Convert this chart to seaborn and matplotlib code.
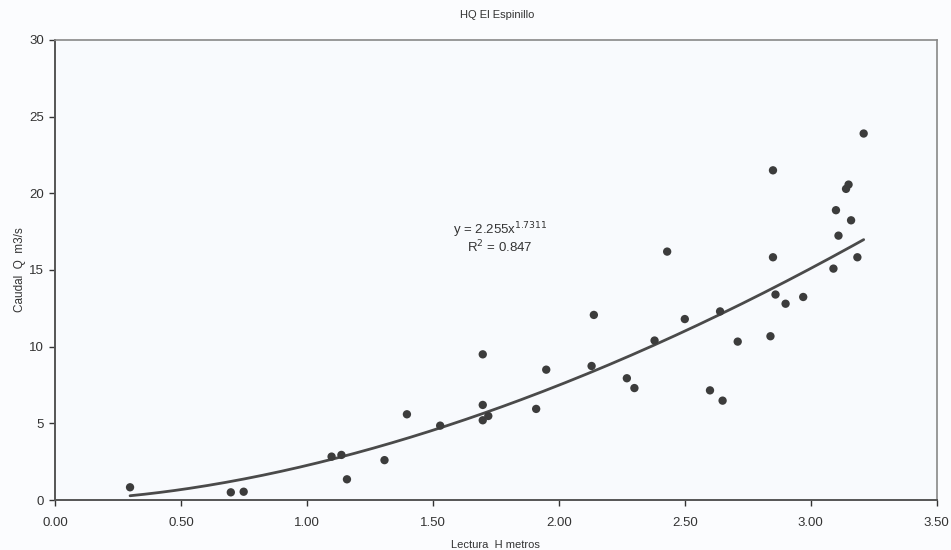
import numpy as np
import pandas as pd
import matplotlib
matplotlib.use("Agg")
import matplotlib.pyplot as plt
import seaborn as sns

# Data
lectura_h = [0.298, 0.698, 0.749, 1.098, 1.137, 1.159, 1.308, 1.397, 1.529,
             1.698, 1.698, 1.698, 1.72, 1.91, 1.95, 2.13, 2.139, 2.27, 2.30,
             2.38, 2.43, 2.50, 2.60, 2.64, 2.65, 2.71, 2.84, 2.85, 2.85, 2.86,
             2.90, 2.97, 3.09, 3.10, 3.11, 3.14, 3.15, 3.16, 3.185, 3.21]
caudal_q = [0.83, 0.50, 0.54, 2.83, 2.94, 1.35, 2.6, 5.59, 4.85,
            9.5, 6.2, 5.2, 5.48, 5.94, 8.5, 8.74, 12.07, 7.94, 7.3,
            10.4, 16.2, 11.8, 7.15, 12.3, 6.48, 10.33, 10.68, 21.5, 15.83, 13.4,
            12.8, 13.24, 15.09, 18.9, 17.24, 20.29, 20.57, 18.24, 15.83, 23.9]

# Power trendline shown on chart
coef_a = 2.255
coef_b = 1.7311

x_ticks = [0.00, 0.50, 1.00, 1.50, 2.00, 2.50, 3.00, 3.50]
y_ticks = [0, 5, 10, 15, 20, 25, 30]

df = pd.DataFrame({"H": lectura_h, "Q": caudal_q})

sns.set_theme(style="white")
plt.rcParams['font.family'] = ['Liberation Sans', 'DejaVu Sans']

fig = plt.figure(figsize=(9.51, 5.5), dpi=100)
fig.patch.set_facecolor("#fbfcfe")
ax = fig.add_axes([0.0578, 0.0909, 0.9272, 0.8364])
ax.set_facecolor("#f8fafd")

xs = np.linspace(min(lectura_h), max(lectura_h), 200)
fit = pd.DataFrame({"H": xs, "Q": coef_a * xs ** coef_b})
sns.lineplot(data=fit, x="H", y="Q", ax=ax, color="#4a4a4a", linewidth=2.0, zorder=2)
sns.scatterplot(data=df, x="H", y="Q", ax=ax, color="#3c3c3c", s=36,
                edgecolor="none", zorder=3)

ax.set_xlim(0, 3.5)
ax.set_ylim(0, 30)
ax.set_xticks(x_ticks)
ax.set_xticklabels([f"{t:.2f}" for t in x_ticks])
ax.set_yticks(y_ticks)
ax.set_yticklabels([str(t) for t in y_ticks])
ax.tick_params(axis="both", which="major", labelsize=9.5, colors="#333333",
               direction="out", length=4, width=1, bottom=True, left=True, pad=4)
ax.tick_params(axis="x", pad=8)

for side in ["left", "bottom"]:
    ax.spines[side].set_color("#555555")
    ax.spines[side].set_linewidth(1.4)
for side in ["top", "right"]:
    ax.spines[side].set_color("#888888")
    ax.spines[side].set_linewidth(1.2)

ax.set_xlabel("Lectura  H metros", fontsize=8, color="#333333", labelpad=8)
ax.set_ylabel("Caudal  Q  m3/s", fontsize=8.5, color="#333333", labelpad=2)
fig.text(0.523, 0.972, "HQ El Espinillo", ha="center", va="center",
         fontsize=8, color="#333333")

ax.text(1.58, 17.6, r"y = 2.255x$^{1.7311}$", ha="left", va="center",
        fontsize=9.5, color="#333333")
ax.text(1.635, 16.5, r"R$^{2}$ = 0.847", ha="left", va="center",
        fontsize=9.5, color="#333333")

fig.savefig("out.png", dpi=100, facecolor=fig.get_facecolor())
